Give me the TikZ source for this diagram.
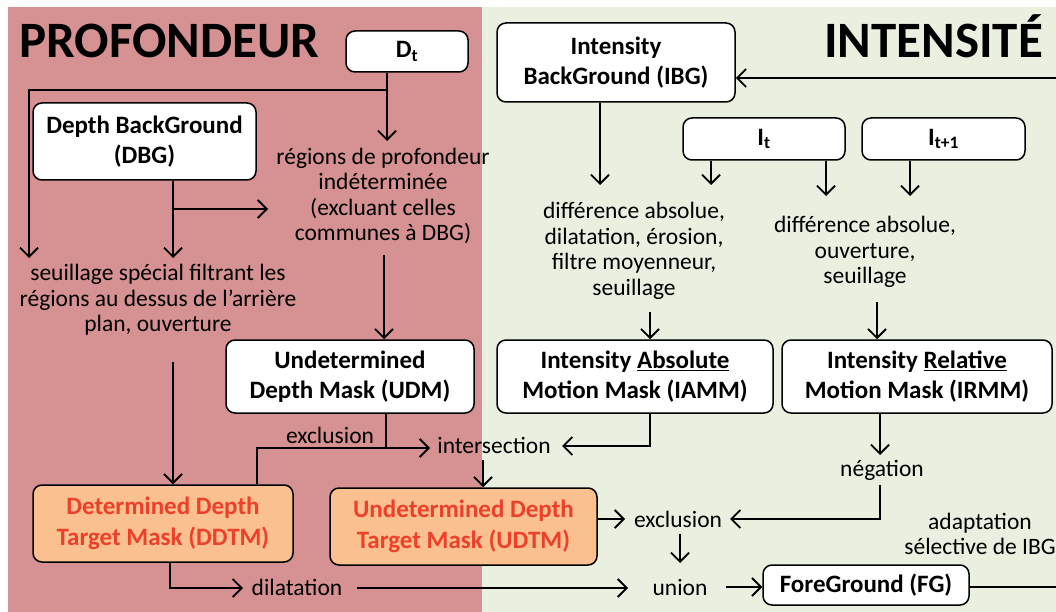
\documentclass[tikz,border=0pt]{standalone}
\usepackage{fontspec}
\setmainfont{Carlito}
\usetikzlibrary{arrows.meta}
\definecolor{pinkbg}{RGB}{214,145,146}
\definecolor{greenbg}{RGB}{234,240,224}
\definecolor{orangefill}{RGB}{250,192,144}
\definecolor{redtxt}{RGB}{236,64,42}
\begin{document}
\begin{tikzpicture}[x=1pt,y=-1pt,
  box/.style={draw=black, line width=1.5pt, rounded corners=9pt, fill=white, align=center,
    font=\bfseries\fontsize{25}{30.5}\selectfont, inner sep=0pt},
  obox/.style={box, fill=orangefill, text=redtxt},
  txt/.style={align=center, font=\fontsize{23.5}{25.5}\selectfont, inner sep=0pt},
  ttl/.style={font=\bfseries\fontsize{51}{53}\selectfont, inner sep=0pt},
  ln/.style={line width=1.8pt},
  arr/.style={ln, -{Straight Barb[length=9pt,width=18pt,line width=1.8pt]}},
]
\useasboundingbox (0,0) rectangle (1056,612);
\fill[white] (0,0) rectangle (1056,612);
\fill[pinkbg] (8,7) rectangle (482,612);
\fill[greenbg] (482,7) rectangle (1056,612);

% titles
\node[ttl, anchor=base west] (tprof) at (19,58) {PROFONDEUR};
\node[ttl, anchor=base east] (tint) at (1043,58) {INTENSITÉ};

% boxes
\node[box, minimum width=122pt, minimum height=41pt] (dt) at (407,51.5) {D\textsubscript{t}};
\node[box, minimum width=238pt, minimum height=79pt] (ibg) at (616,62.5) {Intensity\\BackGround (IBG)};
\node[box, minimum width=223pt, minimum height=77pt] (dbg) at (144.5,141.5) {Depth BackGround\\(DBG)};
\node[box, minimum width=162pt, minimum height=42pt] (it) at (764,139) {I\textsubscript{t}};
\node[box, minimum width=163pt, minimum height=42pt] (it1) at (943.5,139) {I\textsubscript{t+1}};
\node[box, minimum width=248pt, minimum height=73pt] (udm) at (350,376.5) {Undetermined\\Depth Mask (UDM)};
\node[box, minimum width=276pt, minimum height=73pt] (iamm) at (635,376.5) {Intensity \underline{Absolute}\\Motion Mask (IAMM)};
\node[box, minimum width=270pt, minimum height=73pt] (irmm) at (917,376.5) {Intensity \underline{Relative}\\Motion Mask (IRMM)};
\node[obox, minimum width=260pt, minimum height=77pt] (ddtm) at (163,523.5) {Determined Depth\\Target Mask (DDTM)};
\node[obox, minimum width=267pt, minimum height=77pt] (udtm) at (463.5,526.5) {Undetermined Depth\\Target Mask (UDTM)};
\node[box, minimum width=206pt, minimum height=40pt] (fg) at (866,585) {ForeGround (FG)};

% texts
\node[txt] (regions) at (383,196) {régions de profondeur\\indéterminée\\(excluant celles\\communes à DBG)};
\node[txt] (seuil) at (158,300) {seuillage spécial filtrant les\\régions au dessus de l’arrière\\plan, ouverture};
\node[txt] (diffa) at (634,251) {différence absolue,\\dilatation, érosion,\\filtre moyenneur,\\seuillage};
\node[txt] (diffb) at (865,252) {différence absolue,\\ouverture,\\seuillage};
\node[txt] (exclA) at (330,435) {exclusion};
\node[txt] (inter) at (494,445) {intersection};
\node[txt] (neg) at (882,470) {négation};
\node[txt] (exclB) at (678,519) {exclusion};
\node[txt] (adapt) at (980,534) {adaptation\\sélective de IBG};
\node[txt] (dil) at (297,587) {dilatation};
\node[txt] (union) at (680,587) {union};

% connectors
\coordinate (j1) at (387,90);
\coordinate (t1) at (387,141);
\coordinate (jl) at (29,90);
\coordinate (t2) at (29,258);
\draw[ln] (dt.south -| j1) -- (j1);
\draw[arr] (j1) -- (t1);
\draw[arr] (j1) -- (jl) -- (t2);

\coordinate (d1) at (173,209);
\coordinate (t3) at (173,258);
\coordinate (t4) at (268,209);
\draw[arr] (dbg.south -| d1) -- (t3);
\draw[arr] (d1) -- (t4);

\coordinate (r1) at (384,255);
\draw[arr] (r1) -- (udm.north -| r1);
\coordinate (s1) at (173,362);
\draw[arr] (s1) -- (ddtm.north -| s1);

\coordinate (e1) at (386,448);
\coordinate (e0) at (257,448);
\coordinate (t5) at (430,448);
\draw[ln] (udm.south -| e1) -- (e1);
\draw[arr] (ddtm.north -| e0) -- (e0) -- (t5);

\coordinate (a1) at (650,446);
\coordinate (t6) at (562,446);
\draw[arr] (iamm.south -| a1) -- (a1) -- (t6);

\coordinate (i1) at (483,460);
\draw[arr] (i1) -- (udtm.north -| i1);

\coordinate (n0) at (880,455);
\draw[arr] (irmm.south -| n0) -- (n0);
\coordinate (n1) at (880,485);
\coordinate (n2) at (880,519);
\coordinate (t7) at (730,519);
\draw[arr] (n1) -- (n2) -- (t7);

\coordinate (t8) at (625,519);
\draw[arr] (udtm.east |- t8) -- (t8);

\coordinate (x1) at (680,534);
\coordinate (t9) at (680,563);
\draw[arr] (x1) -- (t9);

\coordinate (g1) at (170,588);
\coordinate (t10) at (243,588);
\draw[arr] (ddtm.south -| g1) -- (g1) -- (t10);
\coordinate (g2) at (357,588);
\coordinate (t11) at (628,588);
\draw[arr] (g2) -- (t11);

\coordinate (u1) at (726,587);
\draw[arr] (u1) -- (fg.west |- u1);
\coordinate (re1) at (1056,587);
\draw[ln] (fg.east |- re1) -- (re1);
\coordinate (re2) at (1056,78);
\draw[arr] (re2) -- (ibg.east |- re2);

\coordinate (b1) at (600,185);
\draw[arr] (ibg.south -| b1) -- (b1);
\coordinate (b2) at (711,185);
\coordinate (b3) at (826,196);
\draw[arr] (it.south -| b2) -- (b2);
\draw[arr] (it.south -| b3) -- (b3);
\coordinate (b4) at (910,196);
\draw[arr] (it1.south -| b4) -- (b4);

\coordinate (c1) at (650,312);
\draw[arr] (c1) -- (iamm.north -| c1);
\coordinate (c2) at (877,302);
\draw[arr] (c2) -- (irmm.north -| c2);
\end{tikzpicture}
\end{document}
